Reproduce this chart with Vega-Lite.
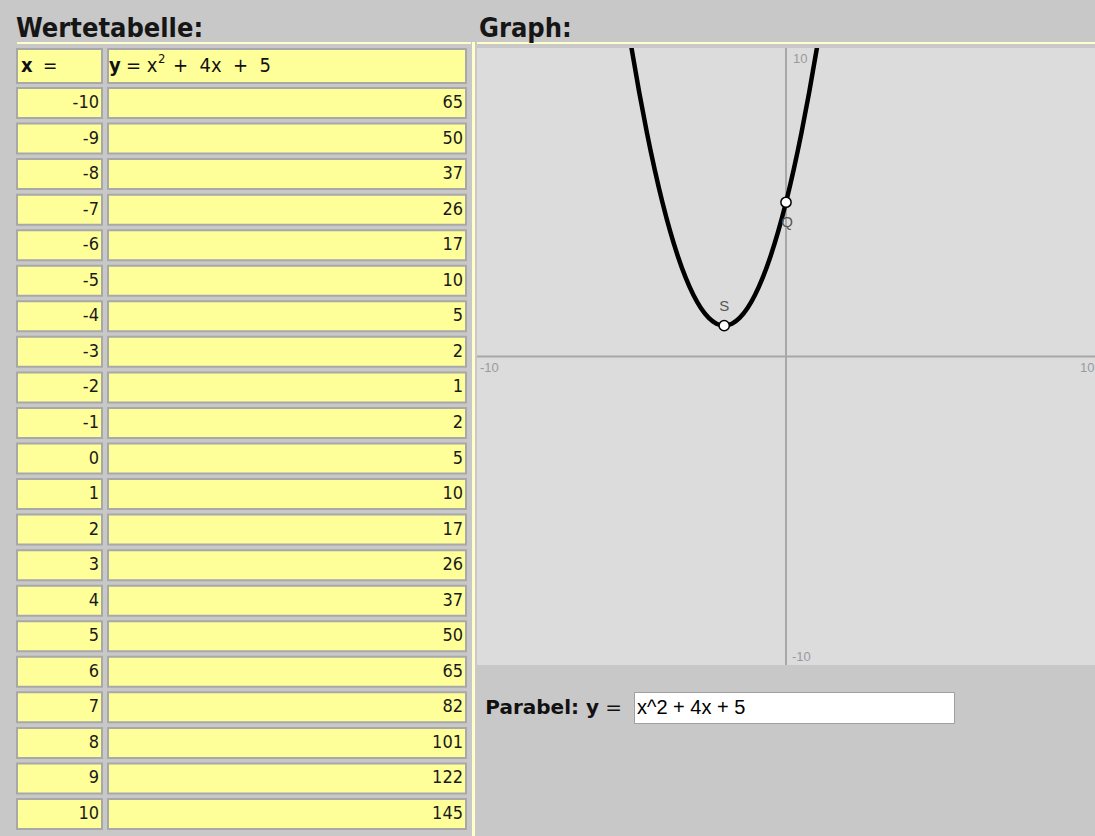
{
  "$schema": "https://vega.github.io/schema/vega-lite/v6.json",
  "background": "#c8c8c8",
  "padding": {"left": 16, "top": 15, "right": 0, "bottom": 0},
  "config": {
    "view": {"stroke": null},
    "title": {"font": "DejaVu Sans Condensed, DejaVu Sans", "fontSize": 27, "fontWeight": "bold", "color": "#161616", "anchor": "start", "offset": -1}
  },
  "datasets": {
    "table": [
      {"x": -10, "y": 65}, {"x": -9, "y": 50}, {"x": -8, "y": 37}, {"x": -7, "y": 26},
      {"x": -6, "y": 17}, {"x": -5, "y": 10}, {"x": -4, "y": 5}, {"x": -3, "y": 2},
      {"x": -2, "y": 1}, {"x": -1, "y": 2}, {"x": 0, "y": 5}, {"x": 1, "y": 10},
      {"x": 2, "y": 17}, {"x": 3, "y": 26}, {"x": 4, "y": 37}, {"x": 5, "y": 50},
      {"x": 6, "y": 65}, {"x": 7, "y": 82}, {"x": 8, "y": 101}, {"x": 9, "y": 122},
      {"x": 10, "y": 145}
    ],
    "curve": [
      {"x": -5.1, "y": 10.61}, {"x": -5, "y": 10}, {"x": -4.75, "y": 8.5625}, {"x": -4.5, "y": 7.25},
      {"x": -4.25, "y": 6.0625}, {"x": -4, "y": 5}, {"x": -3.75, "y": 4.0625}, {"x": -3.5, "y": 3.25},
      {"x": -3.25, "y": 2.5625}, {"x": -3, "y": 2}, {"x": -2.75, "y": 1.5625}, {"x": -2.5, "y": 1.25},
      {"x": -2.25, "y": 1.0625}, {"x": -2, "y": 1}, {"x": -1.75, "y": 1.0625}, {"x": -1.5, "y": 1.25},
      {"x": -1.25, "y": 1.5625}, {"x": -1, "y": 2}, {"x": -0.75, "y": 2.5625}, {"x": -0.5, "y": 3.25},
      {"x": -0.25, "y": 4.0625}, {"x": 0, "y": 5}, {"x": 0.25, "y": 6.0625}, {"x": 0.5, "y": 7.25},
      {"x": 0.75, "y": 8.5625}, {"x": 1, "y": 10}, {"x": 1.1, "y": 10.61}
    ],
    "points": [
      {"name": "S", "x": -2, "y": 1},
      {"name": "Q", "x": 0, "y": 5}
    ],
    "axislabels": [
      {"t": "10", "pos": "top", "x": 0, "y": 10},
      {"t": "-10", "pos": "bottom", "x": 0, "y": -10},
      {"t": "-10", "pos": "left", "x": -10, "y": 0},
      {"t": "10", "pos": "right", "x": 10, "y": 0}
    ],
    "zero": [{"v": 0}],
    "blank": [{"k": 0}]
  },
  "hconcat": [
    {
      "title": {"text": "Wertetabelle:"},
      "spacing": 4,
      "vconcat": [
        {
          "width": 454, "height": 2,
          "view": {"fill": "#ffffcc", "stroke": null},
          "data": {"name": "blank"},
          "mark": {"type": "rect", "opacity": 0},
          "encoding": {}
        },
        {
          "spacing": 3,
          "vconcat": [
            {
              "spacing": 4,
              "hconcat": [
                {
                  "width": 85, "height": 34,
                  "view": {"fill": "#ffff99", "stroke": "#a8a8a8", "strokeWidth": 2},
                  "data": {"values": [{"v": "x", "r": "="}]},
                  "layer": [
                    {"mark": {"type": "text", "align": "left", "dx": 4, "font": "DejaVu Sans Condensed, DejaVu Sans", "fontSize": 20, "fontWeight": "bold", "color": "#111"},
                     "encoding": {"x": {"value": 0}, "text": {"field": "v"}}},
                    {"mark": {"type": "text", "align": "left", "dx": 26, "font": "DejaVu Sans Condensed, DejaVu Sans", "fontSize": 19, "color": "#111"},
                     "encoding": {"x": {"value": 0}, "text": {"field": "r"}}}
                  ]
                },
                {
                  "width": 358, "height": 34,
                  "view": {"fill": "#ffff99", "stroke": "#a8a8a8", "strokeWidth": 2},
                  "data": {"values": [{"v": "y", "a": "= x", "s": "2", "b": "+\u00a0\u00a04x\u00a0\u00a0+\u00a0\u00a05"}]},
                  "layer": [
                    {"mark": {"type": "text", "align": "left", "dx": 1, "font": "DejaVu Sans Condensed, DejaVu Sans", "fontSize": 20, "fontWeight": "bold", "color": "#111"},
                     "encoding": {"x": {"value": 0}, "text": {"field": "v"}}},
                    {"mark": {"type": "text", "align": "left", "dx": 18, "font": "DejaVu Sans Condensed, DejaVu Sans", "fontSize": 20, "color": "#111"},
                     "encoding": {"x": {"value": 0}, "text": {"field": "a"}}},
                    {"mark": {"type": "text", "align": "left", "dx": 50, "dy": -7, "font": "DejaVu Sans Condensed, DejaVu Sans", "fontSize": 13, "color": "#111"},
                     "encoding": {"x": {"value": 0}, "text": {"field": "s"}}},
                    {"mark": {"type": "text", "align": "left", "dx": 65, "font": "DejaVu Sans Condensed, DejaVu Sans", "fontSize": 20, "color": "#111"},
                     "encoding": {"x": {"value": 0}, "text": {"field": "b"}}}
                  ]
                }
              ]
            },
            {
              "spacing": 4,
              "hconcat": [
                {
                  "width": 85, "height": 741,
                  "data": {"name": "table"},
                  "encoding": {
                    "y": {"field": "x", "type": "ordinal", "sort": "ascending", "scale": {"paddingInner": 0.156, "paddingOuter": 0}, "axis": null}
                  },
                  "layer": [
                    {"mark": {"type": "rect", "fill": "#ffff99", "stroke": "#a8a8a8", "strokeWidth": 2}},
                    {"mark": {"type": "text", "align": "right", "dx": -3, "font": "DejaVu Sans Condensed, DejaVu Sans", "fontSize": 18, "color": "#1a1a1a"},
                     "encoding": {"x": {"value": "width"}, "text": {"field": "x"}}}
                  ]
                },
                {
                  "width": 358, "height": 741,
                  "data": {"name": "table"},
                  "encoding": {
                    "y": {"field": "x", "type": "ordinal", "sort": "ascending", "scale": {"paddingInner": 0.156, "paddingOuter": 0}, "axis": null}
                  },
                  "layer": [
                    {"mark": {"type": "rect", "fill": "#ffff99", "stroke": "#a8a8a8", "strokeWidth": 2}},
                    {"mark": {"type": "text", "align": "right", "dx": -3, "font": "DejaVu Sans Condensed, DejaVu Sans", "fontSize": 18, "color": "#1a1a1a"},
                     "encoding": {"x": {"value": "width"}, "text": {"field": "y"}}}
                  ]
                }
              ]
            }
          ]
        }
      ]
    },
    {
      "width": 3, "height": 821,
      "view": {"fill": "#ffffcc", "stroke": null},
      "data": {"name": "blank"},
      "mark": {"type": "rect", "opacity": 0},
      "encoding": {}
    },
    {
      "title": {"text": "Graph:", "dx": 3},
      "spacing": 25,
      "vconcat": [
        {
          "spacing": 3,
          "vconcat": [
            {
              "width": 618, "height": 2,
              "view": {"fill": "#ffffcc", "stroke": null},
              "data": {"name": "blank"},
              "mark": {"type": "rect", "opacity": 0},
              "encoding": {}
            },
            {
              "width": 618, "height": 617,
              "view": {"fill": "#dcdcdc", "stroke": null},
              "layer": [
                {"data": {"name": "zero"},
                 "mark": {"type": "rule", "color": "#a8a8a8", "strokeWidth": 2},
                 "encoding": {"x": {"field": "v", "type": "quantitative", "scale": {"domain": [-10, 10], "nice": false, "zero": false}, "axis": null}}},
                {"data": {"name": "zero"},
                 "mark": {"type": "rule", "color": "#a8a8a8", "strokeWidth": 2},
                 "encoding": {"y": {"field": "v", "type": "quantitative", "scale": {"domain": [-10, 10], "nice": false, "zero": false}, "axis": null}}},
                {"data": {"name": "axislabels"},
                 "transform": [{"filter": "datum.pos == 'top'"}],
                 "mark": {"type": "text", "align": "left", "baseline": "top", "dx": 7, "dy": 5, "font": "Liberation Sans", "fontSize": 13, "color": "#9a9a9a"},
                 "encoding": {"x": {"field": "x", "type": "quantitative"}, "y": {"field": "y", "type": "quantitative"}, "text": {"field": "t"}}},
                {"data": {"name": "axislabels"},
                 "transform": [{"filter": "datum.pos == 'bottom'"}],
                 "mark": {"type": "text", "align": "left", "baseline": "bottom", "dx": 6, "dy": -1, "font": "Liberation Sans", "fontSize": 13, "color": "#9a9a9a"},
                 "encoding": {"x": {"field": "x", "type": "quantitative"}, "y": {"field": "y", "type": "quantitative"}, "text": {"field": "t"}}},
                {"data": {"name": "axislabels"},
                 "transform": [{"filter": "datum.pos == 'left'"}],
                 "mark": {"type": "text", "align": "left", "baseline": "top", "dx": 3, "dy": 5, "font": "Liberation Sans", "fontSize": 13, "color": "#9a9a9a"},
                 "encoding": {"x": {"field": "x", "type": "quantitative"}, "y": {"field": "y", "type": "quantitative"}, "text": {"field": "t"}}},
                {"data": {"name": "axislabels"},
                 "transform": [{"filter": "datum.pos == 'right'"}],
                 "mark": {"type": "text", "align": "left", "baseline": "top", "dx": -15, "dy": 5, "font": "Liberation Sans", "fontSize": 13, "color": "#9a9a9a"},
                 "encoding": {"x": {"field": "x", "type": "quantitative"}, "y": {"field": "y", "type": "quantitative"}, "text": {"field": "t"}}},
                {"data": {"name": "curve"},
                 "mark": {"type": "line", "color": "#000000", "strokeWidth": 4.5, "interpolate": "monotone", "clip": true},
                 "encoding": {"x": {"field": "x", "type": "quantitative"}, "y": {"field": "y", "type": "quantitative"}}},
                {"data": {"name": "points"},
                 "mark": {"type": "circle", "size": 105, "fill": "#ffffff", "stroke": "#000000", "strokeWidth": 1.5, "opacity": 1},
                 "encoding": {"x": {"field": "x", "type": "quantitative"}, "y": {"field": "y", "type": "quantitative"}}},
                {"data": {"name": "points"},
                 "transform": [{"filter": "datum.name == 'S'"}],
                 "mark": {"type": "text", "dy": -20, "font": "Liberation Sans", "fontSize": 15, "color": "#555555"},
                 "encoding": {"x": {"field": "x", "type": "quantitative"}, "y": {"field": "y", "type": "quantitative"}, "text": {"field": "name"}}},
                {"data": {"name": "points"},
                 "transform": [{"filter": "datum.name == 'Q'"}],
                 "mark": {"type": "text", "dy": 20, "dx": 1, "font": "Liberation Sans", "fontSize": 15, "color": "#555555"},
                 "encoding": {"x": {"field": "x", "type": "quantitative"}, "y": {"field": "y", "type": "quantitative"}, "text": {"field": "name"}}}
              ]
            }
          ]
        },
        {
          "spacing": 11,
          "hconcat": [
            {
              "width": 145, "height": 31,
              "data": {"values": [{"a": "Parabel: y", "b": "="}]},
              "layer": [
                {"mark": {"type": "text", "align": "right", "dx": -23, "font": "DejaVu Sans", "fontSize": 20, "fontWeight": "bold", "color": "#111"},
                 "encoding": {"x": {"value": "width"}, "text": {"field": "a"}}},
                {"mark": {"type": "text", "align": "right", "font": "DejaVu Sans", "fontSize": 20, "color": "#111"},
                 "encoding": {"x": {"value": "width"}, "text": {"field": "b"}}}
              ]
            },
            {
              "width": 320, "height": 31,
              "view": {"fill": "#ffffff", "stroke": "#a0a0a0", "strokeWidth": 1},
              "data": {"values": [{"t": "x^2 + 4x + 5"}]},
              "mark": {"type": "text", "align": "left", "dx": 3, "font": "Liberation Sans", "fontSize": 20, "color": "#000"},
              "encoding": {"x": {"value": 0}, "text": {"field": "t"}}
            }
          ]
        }
      ]
    }
  ],
  "spacing": 1
}
